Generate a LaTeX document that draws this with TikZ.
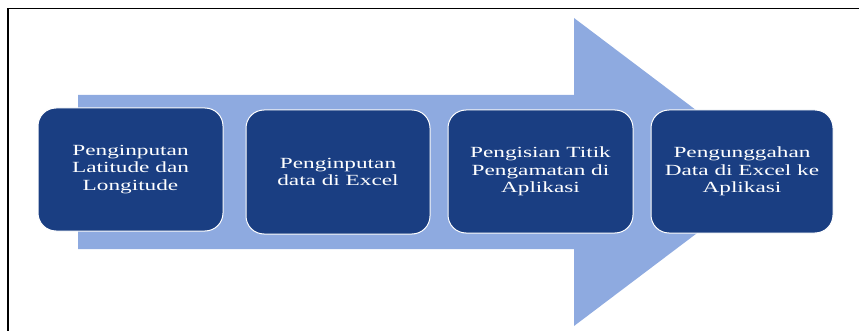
\documentclass[tikz,border=0pt]{standalone}
\usepackage{fontspec}
\newfontfamily\boxfont[FakeStretch=1.5]{Liberation Serif}
\definecolor{arrowblue}{RGB}{142,170,224}
\definecolor{stepblue}{RGB}{26,62,130}
\begin{document}
\begin{tikzpicture}[x=1pt,y=-1pt,
  stepbox/.style={draw=white, line width=1pt, fill=stepblue, rounded corners=18pt,
    text=white, align=center, inner sep=0pt,
    font=\boxfont\fontsize{15.5pt}{17.5pt}\selectfont}]
\useasboundingbox (0,0) rectangle (859,331);
% frame (top and left edges)
\draw[line width=1.8pt] (8,331) -- (8,8.5) -- (859,8.5);
% big block arrow behind the steps
\fill[arrowblue] (78,95) -- (574,95) -- (574,18) -- (778,172) -- (574,326)
  -- (574,249) -- (78,249) -- cycle;
% process steps
\node[stepbox, minimum width=185pt, minimum height=123pt] (s1) at (130.5,169.5)
  {Penginputan\\Latitude dan\\Longitude};
\node[stepbox, minimum width=184pt, minimum height=124pt] (s2) at (338,172)
  {Penginputan\\data di Excel};
\node[stepbox, minimum width=185pt, minimum height=123pt] (s3) at (540.5,171.5)
  {Pengisian Titik\\Pengamatan di\\Aplikasi};
\node[stepbox, minimum width=182pt, minimum height=123pt] (s4) at (742,171.5)
  {Pengunggahan\\Data di Excel ke\\Aplikasi};
\end{tikzpicture}
\end{document}
